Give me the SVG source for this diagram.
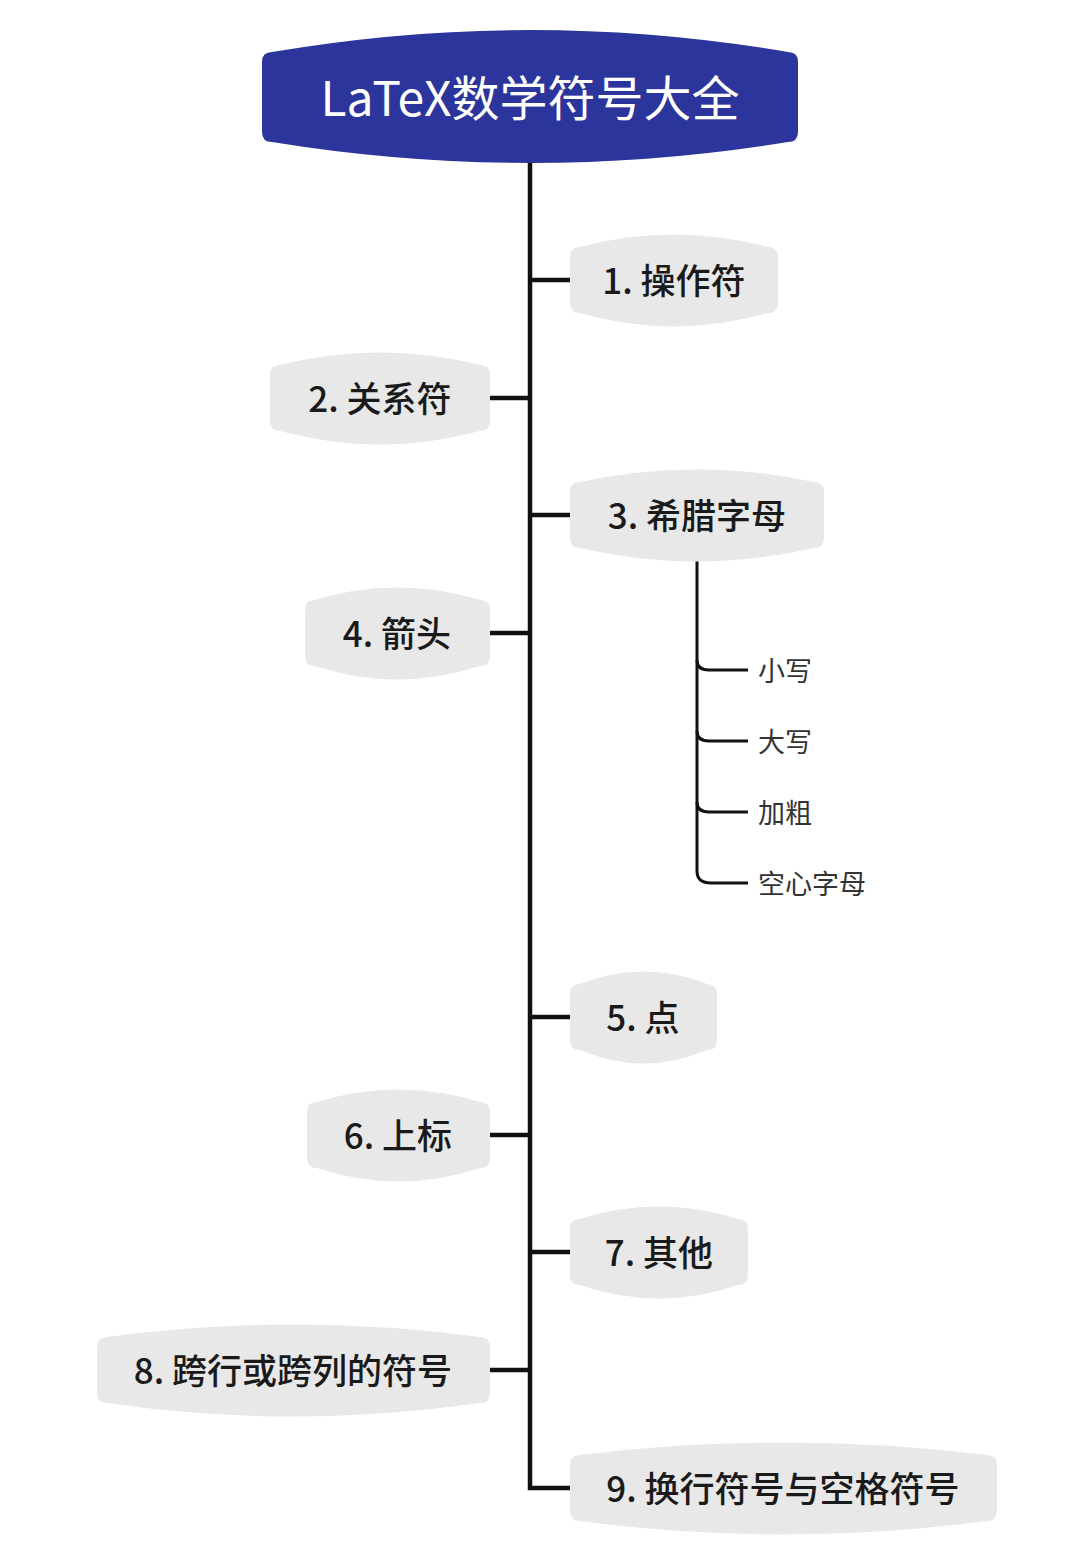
<svg xmlns="http://www.w3.org/2000/svg" width="1080" height="1555" viewBox="0 0 1080 1555">
<style>
.n{fill:#e8e8e8}
.t{font-family:"Noto Sans CJK SC","Noto Sans",sans-serif;font-size:35px;font-weight:500;fill:#1a1a1a;text-anchor:middle;dominant-baseline:central}
.s{font-family:"Noto Sans CJK SC","Noto Sans",sans-serif;font-size:27px;fill:#333;dominant-baseline:central}
.c{fill:none;stroke:#111;stroke-width:4.5}
.c2{fill:none;stroke:#111;stroke-width:3}
</style>
<rect width="1080" height="1555" fill="#fff"/>
<g id="connectors">
<path class="c" d="M530,160 V1488 H572"/>
<path class="c" d="M530,280 H572"/>
<path class="c" d="M530,398 H490"/>
<path class="c" d="M530,515 H572"/>
<path class="c" d="M530,633 H490"/>
<path class="c" d="M530,1017 H572"/>
<path class="c" d="M530,1135 H490"/>
<path class="c" d="M530,1252 H572"/>
<path class="c" d="M530,1370 H490"/>
<path class="c2" d="M697,560 V660 Q697,670 709,670 H748"/>
<path class="c2" d="M697,660 V731 Q697,741 709,741 H748"/>
<path class="c2" d="M697,731 V802 Q697,812 709,812 H748"/>
<path class="c2" d="M697,802 V871 Q697,883 711,883 H748"/>
</g>
<g id="root">
<path fill="#2c359b" d="M262,62 Q262,52 272,52 Q530,8 788,52 Q798,52 798,62 V132 Q798,142 788,142 Q530,184 272,142 Q262,142 262,132 Z"/>
<text x="530" y="95" font-family="'Noto Sans CJK SC','Noto Sans',sans-serif" font-size="48" fill="#fff" text-anchor="middle" dominant-baseline="central">LaTeX数学符号大全</text>
</g>
<g id="n1">
<path class="n" d="M570,257 Q570,247 580,247 Q674,222 768,247 Q778,247 778,257 V303 Q778,313 768,313 Q674,340 580,313 Q570,313 570,303 Z"/>
<text class="t" x="674" y="278">1. 操作符</text>
</g>
<g id="n2">
<path class="n" d="M270,375 Q270,365 280,365 Q380,340 480,365 Q490,365 490,375 V421 Q490,431 480,431 Q380,458 280,431 Q270,431 270,421 Z"/>
<text class="t" x="380" y="396">2. 关系符</text>
</g>
<g id="n3">
<path class="n" d="M570,492 Q570,482 580,482 Q697,457 814,482 Q824,482 824,492 V538 Q824,548 814,548 Q697,575 580,548 Q570,548 570,538 Z"/>
<text class="t" x="697" y="513">3. 希腊字母</text>
</g>
<g id="n3a"><text class="s" x="758" y="669">小写</text></g>
<g id="n3b"><text class="s" x="758" y="740">大写</text></g>
<g id="n3c"><text class="s" x="758" y="811">加粗</text></g>
<g id="n3d"><text class="s" x="758" y="882">空心字母</text></g>
<g id="n4">
<path class="n" d="M305,610 Q305,600 315,600 Q397,575 480,600 Q490,600 490,610 V656 Q490,666 480,666 Q397,693 315,666 Q305,666 305,656 Z"/>
<text class="t" x="397" y="631">4. 箭头</text>
</g>
<g id="n5">
<path class="n" d="M570,994 Q570,984 580,984 Q643,959 707,984 Q717,984 717,994 V1040 Q717,1050 707,1050 Q643,1077 580,1050 Q570,1050 570,1040 Z"/>
<text class="t" x="643" y="1015">5. 点</text>
</g>
<g id="n6">
<path class="n" d="M307,1112 Q307,1102 317,1102 Q398,1077 480,1102 Q490,1102 490,1112 V1158 Q490,1168 480,1168 Q398,1195 317,1168 Q307,1168 307,1158 Z"/>
<text class="t" x="398" y="1133">6. 上标</text>
</g>
<g id="n7">
<path class="n" d="M570,1229 Q570,1219 580,1219 Q659,1194 738,1219 Q748,1219 748,1229 V1275 Q748,1285 738,1285 Q659,1312 580,1285 Q570,1285 570,1275 Z"/>
<text class="t" x="659" y="1250">7. 其他</text>
</g>
<g id="n8">
<path class="n" d="M97,1347 Q97,1337 107,1337 Q293,1312 480,1337 Q490,1337 490,1347 V1393 Q490,1403 480,1403 Q293,1430 107,1403 Q97,1403 97,1393 Z"/>
<text class="t" x="293" y="1368">8. 跨行或跨列的符号</text>
</g>
<g id="n9">
<path class="n" d="M570,1465 Q570,1455 580,1455 Q783,1430 987,1455 Q997,1455 997,1465 V1511 Q997,1521 987,1521 Q783,1548 580,1521 Q570,1521 570,1511 Z"/>
<text class="t" x="783" y="1486">9. 换行符号与空格符号</text>
</g>
</svg>
